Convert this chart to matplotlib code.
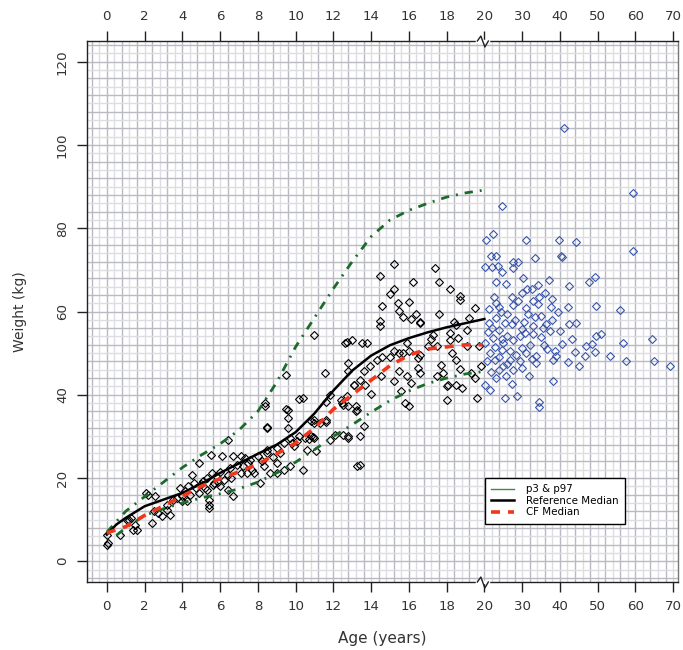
import matplotlib
matplotlib.use("Agg")
import matplotlib.pyplot as plt
from matplotlib.lines import Line2D
from matplotlib.transforms import IdentityTransform
import numpy as np

plt.rcParams["font.family"] = "DejaVu Sans"

# reference curves (age in years, weight in kg)
curve_age = [0, 0.5, 1, 2, 3, 4, 5, 6, 7, 8, 9, 10, 11, 12, 13, 14, 15, 16, 17, 18, 19, 20]
ref_median = [6.4, 8.8, 10.4, 13.2, 14.8, 16.4, 18.6, 21.2, 23.5, 25.8, 28.0, 31.0, 35.5, 41.0,
              45.8, 49.4, 51.9, 53.6, 55.0, 56.2, 57.2, 58.2]
p3 = [4.0, 6.2, 8.0, 11.0, 12.6, 14.0, 15.2, 16.2, 17.4, 19.0, 21.2, 23.8, 26.8, 30.0,
      32.8, 35.8, 38.6, 40.9, 42.7, 44.0, 45.0, 45.6]
p97 = [7.0, 9.5, 12.0, 15.5, 19.0, 22.5, 25.5, 28.2, 31.5, 36.0, 43.0, 51.5, 58.5, 65.5,
       72.0, 78.0, 82.0, 84.3, 86.0, 87.5, 88.5, 89.2]

cf_age = [0, 1, 2, 3, 4, 5, 6, 7, 8, 9, 10, 11, 12, 13, 14, 15, 16, 17, 18, 19, 19.9]
cf_median = [6.8, 8.3, 11.0, 13.3, 15.6, 18.0, 19.8, 21.5, 23.3, 25.8, 28.4, 32.0, 36.5, 40.0,
             43.5, 47.0, 49.5, 51.0, 51.5, 52.0, 52.0]

# children (0-20 y)
child_age = [0.0, 0.05, 0.0, 0.7, 1.06, 1.2, 1.3, 1.4, 1.6, 1.5, 2.1, 2.2, 2.4, 2.55, 2.7, 2.9,
             3.35, 3.2, 3.5, 3.9, 3.97, 4.25, 4.5, 4.6, 4.9, 4.9, 5.2, 5.4, 5.4, 5.4, 5.5, 5.56,
             5.7, 6.0, 6.4, 6.4, 6.7, 6.7, 7.1, 7.4, 7.8, 8.1, 8.4, 8.4, 8.5, 8.5, 9.0, 9.4,
             9.5, 9.6, 9.6, 10.4, 10.4, 10.95, 11.1, 10.95, 11.57, 6.1, 6.5, 5.3, 4.15, 4.3, 3.2, 2.5,
             12.7, 13.0, 9.5, 10.2, 11.6, 11.8, 13.07, 9.6, 10.8, 11.0, 11.3, 11.6, 12.4, 10.2,
             10.8, 9.7, 9.4, 9.0, 8.5, 9.9, 10.6, 11.8, 12.1, 12.5, 12.8, 8.5, 8.0, 7.6, 7.1,
             9.0, 9.7, 8.3, 7.7, 7.2, 8.65, 6.4, 13.25, 11.6,
             4.7, 5.0, 5.1, 5.3, 5.8, 6.0, 6.2, 6.6, 3.7, 4.0, 4.4, 5.6, 5.9, 6.9, 7.3, 7.5,
             8.2, 8.8, 9.2, 9.8, 10.1, 10.5, 10.7, 10.9, 11.0,
             15.19, 14.45, 17.4, 16.2, 17.6, 18.2, 15.2, 15.0, 18.7, 18.7, 14.57, 16.0, 15.4,
             15.5, 16.4, 16.1, 16.6, 15.7, 17.6, 19.5, 14.45, 14.45, 18.4, 19.2, 12.6, 13.5,
             13.8, 17.2, 17.5, 18.2, 18.6, 19.1, 19.7, 17.0, 15.0, 15.5, 16.0, 16.5, 18.3,
             18.5, 14.6, 13.95, 13.6, 12.8, 14.5, 15.5, 15.9, 16.5, 17.7, 17.8, 18.7, 19.8,
             13.07, 13.7, 14.0, 16.1, 15.6, 17.5, 18.0, 18.5, 19.3, 19.5, 15.8, 16.0, 18.0,
             19.6, 12.7, 12.45, 13.2,
             12.8, 13.4, 13.4, 13.6, 12.5, 12.8, 13.2, 13.25, 12.8, 13.4, 14.3, 15.2, 15.7,
             16.6, 15.9, 15.2, 16.6, 18.1, 18.8, 17.3, 18.2, 19.1, 18.5, 16.6]
child_wt = [4.0, 4.3, 6.4, 6.4, 10.0, 9.8, 10.4, 7.6, 7.6, 8.8, 16.4, 15.8, 9.2, 15.6, 11.6, 10.8,
            11.2, 13.6, 14.8, 17.6, 15.6, 14.4, 20.8, 18.8, 23.6, 16.4, 17.6, 14.8, 13.6, 12.8,
            25.6, 21.2, 18.8, 18.0, 17.2, 29.2, 15.6, 25.2, 21.2, 21.2, 21.2, 18.8, 38.0, 37.2,
            32.3, 32.0, 21.2, 22.0, 44.8, 36.4, 34.4, 22.0, 39.2, 54.4, 26.4, 34.0, 45.2, 25.2,
            22.4, 20.0, 16.8, 18.0, 12.4, 12.0,
            52.6, 53.2, 36.6, 39.0, 38.2, 40.0, 42.4, 32.0, 33.6, 33.2, 33.2, 33.4, 38.8, 30.0,
            30.0, 29.6, 28.4, 27.2, 26.8, 27.6, 26.8, 29.2, 30.4, 30.4, 29.6, 26.0, 25.2, 24.4,
            25.2, 23.6, 22.8, 22.8, 22.0, 22.8, 21.2, 20.8, 22.8, 34.0,
            17.5, 18.5, 19.2, 17.0, 20.5, 21.5, 19.5, 20.0, 15.2, 14.5, 16.0, 18.2, 19.0, 23.0,
            24.8, 23.5, 24.0, 25.0, 26.0, 28.5, 28.8, 29.6, 29.4, 29.8, 29.5,
            71.4, 68.6, 70.4, 67.0, 67.0, 65.4, 65.4, 64.2, 63.8, 62.8, 61.4, 62.4, 62.0, 60.2,
            59.4, 58.2, 57.6, 58.6, 59.4, 60.8, 57.8, 56.4, 57.6, 58.4, 52.4, 52.4, 52.4, 53.4,
            51.8, 53.2, 53.6, 51.8, 51.6, 51.6, 49.0, 50.0, 50.4, 48.8, 50.0, 48.4, 49.0, 46.8,
            45.6, 45.6, 44.4, 45.6, 44.4, 46.4, 47.2, 45.2, 46.2, 46.8, 42.4, 42.4, 40.2, 42.8,
            40.8, 44.4, 42.0, 42.4, 45.2, 44.0, 38.0, 37.2, 38.8, 39.2, 39.6, 38.0, 36.0,
            30.2, 30.2, 23.0, 32.4, 37.6, 37.4, 37.4, 36.4, 47.6, 43.6, 48.4, 50.4, 50.0, 49.6,
            52.4, 43.2, 45.2, 42.4, 41.6, 54.4, 54.8, 55.6, 56.8, 57.2]

# adults (20-70 y)
adult_age = [59.3, 24.6, 20.4, 22.3, 31.0, 39.7, 44.3, 59.3, 21.7, 23.2, 40.2, 40.6, 20.3, 22.0,
             23.6, 27.7, 29.0, 33.5, 24.6, 27.7, 23.2, 25.7, 30.3, 37.0, 42.5, 47.7, 49.3, 31.2,
             32.5, 29.9, 34.2, 22.6, 27.3, 38.0, 21.1, 23.8, 24.4, 27.7, 31.0, 34.2, 37.7, 39.5,
             42.1, 49.5, 55.9, 21.1, 25.5, 27.3, 29.9, 33.3, 32.9, 36.4, 37.3, 40.1, 42.5, 44.3,
             49.5, 51.0, 20.3, 22.4, 25.0, 27.7, 29.4, 32.0, 35.1, 35.7, 40.7, 43.3, 47.0, 48.5,
             56.8, 64.5, 21.5, 24.6, 26.8, 29.9, 33.8, 38.6, 38.9, 44.0, 46.7, 49.2, 53.4, 57.4,
             65.0, 69.2, 20.7, 22.9, 26.8, 29.4, 33.8, 38.2, 42.1, 45.2, 23.8, 25.0, 27.7, 23.2,
             20.3, 21.5, 27.3, 31.7, 38.3, 25.4, 28.7, 34.4, 34.4, 41.2,
             21.0, 22.0, 23.0, 24.0, 26.0, 28.0, 30.5, 31.5, 33.0, 34.5, 36.0, 35.5, 26.0, 22.8,
             24.0, 26.0, 28.5, 31.0, 33.0, 36.5, 30.0, 32.5, 21.8, 25.8, 23.0, 28.8, 30.8, 35.0,
             37.8, 24.8]
adult_wt = [88.4, 85.4, 77.2, 78.6, 77.2, 77.2, 76.6, 74.6, 73.4, 73.4, 73.4, 73.2, 70.8, 70.6,
            71.0, 72.0, 71.8, 72.8, 69.6, 70.4, 67.2, 66.6, 68.0, 67.6, 66.2, 67.0, 68.4, 65.4,
            65.4, 64.4, 66.4, 63.4, 63.6, 63.0, 60.6, 61.2, 60.0, 61.6, 60.8, 61.8, 61.2, 60.0,
            61.2, 61.4, 60.4, 57.2, 57.2, 57.0, 55.8, 58.8, 56.4, 57.0, 55.4, 55.2, 57.0, 57.2,
            54.0, 54.6, 52.4, 53.6, 52.4, 53.2, 54.0, 52.0, 53.8, 52.0, 52.2, 53.4, 51.8, 52.2,
            52.4, 53.4, 50.0, 50.8, 50.6, 51.2, 49.2, 50.6, 49.2, 50.2, 49.4, 50.2, 49.2, 48.2,
            48.2, 47.0, 48.0, 48.4, 48.4, 48.0, 47.6, 48.4, 47.8, 47.0, 46.0, 46.8, 46.0, 44.0,
            42.4, 41.2, 42.6, 44.6, 43.4, 39.2, 39.8, 38.2, 37.0, 104.2,
            55.0, 56.0, 58.5, 55.5, 54.0, 58.0, 57.5, 59.5, 62.5, 63.5, 64.5, 56.0, 59.5, 51.5,
            49.0, 47.5, 49.5, 50.0, 54.5, 51.0, 46.5, 48.5, 45.5, 44.5, 62.0, 62.5, 54.8, 59.0,
            58.0, 53.5]

x_ticks = [0, 2, 4, 6, 8, 10, 12, 14, 16, 18, 20, 30, 40, 50, 60, 70]
y_ticks = [0, 20, 40, 60, 80, 100, 120]


def fwd(a):
    a = np.asarray(a, dtype=float)
    return np.where(a <= 20, a, 20 + (a - 20) / 5.0)


def inv(t):
    t = np.asarray(t, dtype=float)
    return np.where(t <= 20, t, 20 + (t - 20) * 5.0)


fig = plt.figure(figsize=(6.83, 6.5), dpi=100)
ax = fig.add_axes([0.1274, 0.1046, 0.8653, 0.8323])
ax.set_xscale("function", functions=(fwd, inv))
ax.set_xlim(-1.05, 71.3)
ax.set_ylim(-5, 125)

# background grid
grid_t = np.arange(-0.8, 30.01, 0.4)
for i, t in enumerate(grid_t):
    col = "#b9bac2" if i % 2 == 0 else "#dddee3"
    ax.axvline(float(inv(t)), color=col, lw=1.0, zorder=0)
for v in np.arange(-4, 125, 2):
    col = "#b9bac2" if v % 4 == 0 else "#dddee3"
    ax.axhline(v, color=col, lw=1.0, zorder=0)

ax.plot(child_age, child_wt, ls="none", marker="D", ms=4.2, mfc="none", mec="black",
        mew=0.8, zorder=2)
ax.plot(adult_age, adult_wt, ls="none", marker="D", ms=4.2, mfc="none", mec="#3a56aa",
        mew=0.8, zorder=2)

green = "#1d6b2c"
ax.plot(curve_age[1:], p3[1:], color=green, lw=2, dashes=(3, 2.5, 0.7, 2.5), zorder=3)
ax.plot(curve_age, p97, color=green, lw=2, dashes=(3, 2.5, 0.7, 2.5), zorder=3)
ax.plot(curve_age, ref_median, color="black", lw=1.8, zorder=4)
ax.plot(cf_age, cf_median, color="#f2361e", lw=2.6, dashes=(2.5, 2.2), zorder=5)

for side in ax.spines.values():
    side.set_color("#222222")
    side.set_linewidth(1.0)
ax.spines["right"].set_color("#777777")

ax.set_xticks(x_ticks)
ax.set_xticklabels([str(v) for v in x_ticks])
ax.set_yticks(y_ticks)
ax.set_yticklabels([str(v) for v in y_ticks], rotation=90, va="center")
ax.xaxis.set_minor_locator(matplotlib.ticker.NullLocator())
ax.tick_params(axis="x", top=True, labeltop=True, direction="out", length=7, width=1,
               labelsize=9.6, pad=6, colors="#222222", labelcolor="#333333")
ax.tick_params(axis="y", direction="out", length=7, width=1, labelsize=9.6, pad=6,
               colors="#222222", labelcolor="#333333")

ax.set_xlabel("Age (years)", fontsize=11, color="#333333", labelpad=13)
ax.set_ylabel("Weight (kg)", fontsize=10, color="#333333", labelpad=21)

handles = [
    Line2D([], [], color="#3b8a4a", lw=1),
    Line2D([], [], color="black", lw=1.8),
    Line2D([], [], color="#f2361e", lw=2.6, dashes=(2.5, 2.2)),
]
leg = ax.legend(handles, ["p3 & p97", "Reference Median", "CF Median"], loc="upper left",
                bbox_to_anchor=(0.673, 0.192), borderaxespad=0, fontsize=7.4,
                frameon=True, fancybox=False, framealpha=1, edgecolor="black",
                handlelength=2.2, handletextpad=1.2, labelspacing=0.15, borderpad=0.6)
leg.get_frame().set_linewidth(1.0)
leg.set_zorder(10)

# axis break marks at age 20
for yv in (-5, 125):
    x0, y0 = ax.transData.transform((20, yv))
    fig.add_artist(Line2D([x0 - 7, x0 + 4], [y0, y0], color="white", lw=2.5,
                          transform=IdentityTransform()))
    fig.add_artist(Line2D(np.array([-7, -3.5, 0.5, 4]) + x0, np.array([0, 5, -6, 0]) + y0,
                          color="#222222", lw=1.0, transform=IdentityTransform()))

fig.savefig("out.png", dpi=100)
